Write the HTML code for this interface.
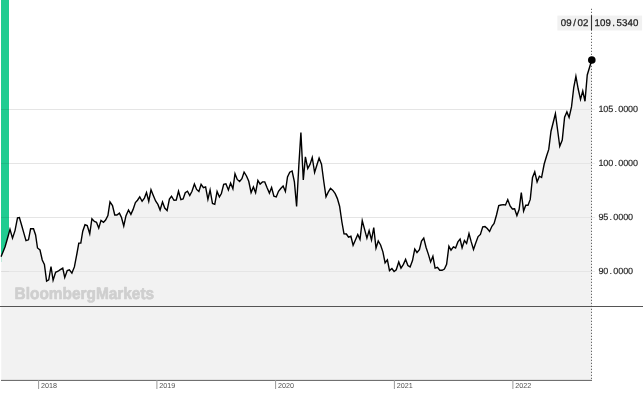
<!DOCTYPE html>
<html><head><meta charset="utf-8"><title>Chart</title>
<style>
html,body{margin:0;padding:0;background:#fff;}
body{width:643px;height:403px;overflow:hidden;font-family:"Liberation Sans",sans-serif;}
svg{display:block;}
</style></head><body>
<svg width="643" height="403" viewBox="0 0 643 403">
<rect x="0" y="0" width="643" height="403" fill="#ffffff"/>
<rect x="1" y="0" width="8" height="262" fill="#21cc91"/>
<path d="M1.25,256.20 L5.00,246.90 L7.60,238.00 L10.00,229.40 L12.50,238.10 L15.00,230.60 L17.50,217.80 L19.40,217.50 L21.70,225.50 L24.00,233.60 L26.00,240.60 L28.50,239.80 L30.60,228.80 L33.50,228.80 L35.60,235.00 L37.50,248.00 L40.00,250.00 L42.25,260.00 L44.40,264.40 L46.60,281.00 L48.75,279.75 L51.00,266.50 L53.10,280.25 L55.60,272.25 L58.10,271.25 L60.30,269.70 L62.75,268.10 L64.75,277.50 L67.25,270.60 L69.40,269.75 L71.90,273.10 L74.40,266.90 L76.90,253.75 L78.80,243.10 L80.80,243.00 L82.75,231.25 L85.00,224.75 L87.25,225.60 L89.75,233.75 L91.90,218.75 L94.40,221.50 L96.50,222.25 L98.75,228.10 L101.00,220.40 L103.50,222.25 L105.60,220.00 L107.90,215.60 L110.00,201.90 L112.50,205.60 L114.75,215.00 L116.90,215.00 L119.40,213.10 L121.50,217.50 L123.75,226.00 L126.00,215.60 L128.50,210.00 L130.90,214.40 L133.10,209.40 L135.40,202.50 L137.50,200.25 L139.75,196.90 L142.10,201.25 L144.40,198.10 L146.50,192.50 L148.75,201.25 L151.00,189.75 L153.10,195.00 L155.60,201.00 L157.90,204.40 L160.10,210.00 L162.50,201.90 L164.75,208.10 L167.10,210.60 L169.40,199.00 L171.50,196.25 L174.00,200.25 L176.25,200.00 L178.50,191.25 L180.90,199.60 L183.10,199.00 L185.25,192.75 L187.50,191.25 L189.75,195.60 L192.00,191.25 L194.40,184.00 L196.60,189.40 L198.90,191.50 L201.10,184.40 L203.40,187.75 L205.60,186.90 L207.90,199.40 L210.10,190.00 L212.50,203.50 L214.75,204.40 L217.10,191.50 L219.40,196.90 L221.40,193.50 L223.70,184.40 L225.90,183.75 L228.40,190.00 L230.60,183.10 L232.90,188.75 L235.00,173.75 L237.25,179.40 L239.60,181.50 L241.90,178.75 L244.10,172.10 L246.50,176.00 L248.75,181.25 L251.10,192.50 L253.40,186.90 L255.60,192.75 L257.90,180.40 L260.10,184.10 L262.50,181.90 L264.75,181.90 L267.10,187.75 L269.40,193.10 L271.60,187.50 L273.90,196.25 L276.25,196.90 L278.50,191.25 L280.75,188.50 L283.10,186.00 L285.40,191.50 L287.50,176.90 L289.75,172.25 L292.10,171.00 L294.40,181.90 L296.60,206.50 L298.80,166.00 L300.90,132.50 L303.30,180.00 L305.40,156.90 L307.75,168.50 L310.00,164.40 L312.25,157.50 L314.60,172.50 L316.90,165.00 L319.10,158.00 L321.50,164.20 L323.75,181.25 L326.00,196.90 L328.20,192.20 L330.50,188.30 L332.90,190.40 L335.20,193.60 L337.40,198.60 L339.60,206.25 L341.90,222.00 L344.00,233.80 L346.40,234.00 L348.50,237.25 L350.90,236.25 L353.10,245.25 L355.40,240.00 L357.75,234.40 L360.00,239.40 L362.25,220.60 L364.60,229.40 L366.90,238.10 L369.10,230.60 L371.50,240.00 L373.75,227.50 L376.00,248.10 L378.25,241.00 L380.60,245.00 L382.90,251.90 L385.10,262.80 L387.40,259.90 L389.50,270.60 L391.90,268.50 L394.10,271.50 L396.25,269.75 L398.75,261.90 L401.00,268.10 L403.40,264.40 L405.60,259.40 L407.90,265.60 L410.10,266.90 L412.50,260.60 L414.75,249.00 L417.00,252.50 L419.40,249.75 L421.50,241.00 L423.75,238.10 L426.10,247.50 L428.40,254.40 L430.60,261.90 L432.90,256.25 L435.10,268.10 L437.50,267.25 L439.75,270.25 L442.10,270.25 L444.40,269.00 L446.60,264.40 L448.90,246.25 L451.00,250.20 L453.40,246.90 L455.60,248.00 L457.90,241.90 L460.10,239.00 L462.10,247.75 L464.40,240.60 L466.60,243.50 L469.00,233.50 L471.25,241.90 L473.50,249.40 L475.90,242.50 L478.10,236.60 L480.40,234.40 L482.75,226.90 L485.00,226.60 L487.25,228.50 L489.60,231.50 L491.90,226.25 L494.10,223.50 L496.50,215.00 L498.75,205.60 L501.00,205.00 L503.25,204.60 L505.50,205.00 L507.75,199.60 L510.10,206.00 L512.40,209.00 L514.60,208.75 L516.90,215.60 L519.10,209.50 L521.30,192.50 L523.60,211.00 L525.75,205.25 L528.00,205.25 L530.25,199.40 L532.50,177.50 L534.75,171.90 L537.10,181.90 L539.40,176.25 L541.60,177.50 L544.20,164.00 L546.50,156.25 L548.75,149.40 L551.00,131.25 L553.20,122.50 L555.40,113.75 L557.60,130.00 L559.75,146.25 L562.25,140.00 L564.60,117.25 L566.90,111.90 L569.10,117.50 L571.50,106.90 L573.75,87.50 L575.90,76.25 L578.20,89.00 L580.50,99.40 L582.75,91.00 L585.00,101.25 L587.25,75.00 L589.50,67.50 L591.75,60.00 L591.75,380.5 L1.25,380.5 Z" fill="#f2f2f2" stroke="none"/>
<line x1="1" y1="109.5" x2="9" y2="109.5" stroke="#000" stroke-opacity="0.085" stroke-width="1"/>
<line x1="9" y1="109.5" x2="591.5" y2="109.5" stroke="#e5e5e5" stroke-width="1"/>
<line x1="591.5" y1="109.5" x2="595" y2="109.5" stroke="#000" stroke-opacity="0.07" stroke-width="1"/>
<line x1="1" y1="163.5" x2="9" y2="163.5" stroke="#000" stroke-opacity="0.085" stroke-width="1"/>
<line x1="9" y1="163.5" x2="591.5" y2="163.5" stroke="#e5e5e5" stroke-width="1"/>
<line x1="591.5" y1="163.5" x2="595" y2="163.5" stroke="#000" stroke-opacity="0.07" stroke-width="1"/>
<line x1="1" y1="217.5" x2="9" y2="217.5" stroke="#000" stroke-opacity="0.085" stroke-width="1"/>
<line x1="9" y1="217.5" x2="591.5" y2="217.5" stroke="#e5e5e5" stroke-width="1"/>
<line x1="591.5" y1="217.5" x2="595" y2="217.5" stroke="#000" stroke-opacity="0.07" stroke-width="1"/>
<line x1="1" y1="271.5" x2="9" y2="271.5" stroke="#000" stroke-opacity="0.085" stroke-width="1"/>
<line x1="9" y1="271.5" x2="591.5" y2="271.5" stroke="#e5e5e5" stroke-width="1"/>
<line x1="591.5" y1="271.5" x2="595" y2="271.5" stroke="#000" stroke-opacity="0.07" stroke-width="1"/>
<path d="M1.25,256.20 L5.00,246.90 L7.60,238.00 L10.00,229.40 L12.50,238.10 L15.00,230.60 L17.50,217.80 L19.40,217.50 L21.70,225.50 L24.00,233.60 L26.00,240.60 L28.50,239.80 L30.60,228.80 L33.50,228.80 L35.60,235.00 L37.50,248.00 L40.00,250.00 L42.25,260.00 L44.40,264.40 L46.60,281.00 L48.75,279.75 L51.00,266.50 L53.10,280.25 L55.60,272.25 L58.10,271.25 L60.30,269.70 L62.75,268.10 L64.75,277.50 L67.25,270.60 L69.40,269.75 L71.90,273.10 L74.40,266.90 L76.90,253.75 L78.80,243.10 L80.80,243.00 L82.75,231.25 L85.00,224.75 L87.25,225.60 L89.75,233.75 L91.90,218.75 L94.40,221.50 L96.50,222.25 L98.75,228.10 L101.00,220.40 L103.50,222.25 L105.60,220.00 L107.90,215.60 L110.00,201.90 L112.50,205.60 L114.75,215.00 L116.90,215.00 L119.40,213.10 L121.50,217.50 L123.75,226.00 L126.00,215.60 L128.50,210.00 L130.90,214.40 L133.10,209.40 L135.40,202.50 L137.50,200.25 L139.75,196.90 L142.10,201.25 L144.40,198.10 L146.50,192.50 L148.75,201.25 L151.00,189.75 L153.10,195.00 L155.60,201.00 L157.90,204.40 L160.10,210.00 L162.50,201.90 L164.75,208.10 L167.10,210.60 L169.40,199.00 L171.50,196.25 L174.00,200.25 L176.25,200.00 L178.50,191.25 L180.90,199.60 L183.10,199.00 L185.25,192.75 L187.50,191.25 L189.75,195.60 L192.00,191.25 L194.40,184.00 L196.60,189.40 L198.90,191.50 L201.10,184.40 L203.40,187.75 L205.60,186.90 L207.90,199.40 L210.10,190.00 L212.50,203.50 L214.75,204.40 L217.10,191.50 L219.40,196.90 L221.40,193.50 L223.70,184.40 L225.90,183.75 L228.40,190.00 L230.60,183.10 L232.90,188.75 L235.00,173.75 L237.25,179.40 L239.60,181.50 L241.90,178.75 L244.10,172.10 L246.50,176.00 L248.75,181.25 L251.10,192.50 L253.40,186.90 L255.60,192.75 L257.90,180.40 L260.10,184.10 L262.50,181.90 L264.75,181.90 L267.10,187.75 L269.40,193.10 L271.60,187.50 L273.90,196.25 L276.25,196.90 L278.50,191.25 L280.75,188.50 L283.10,186.00 L285.40,191.50 L287.50,176.90 L289.75,172.25 L292.10,171.00 L294.40,181.90 L296.60,206.50 L298.80,166.00 L300.90,132.50 L303.30,180.00 L305.40,156.90 L307.75,168.50 L310.00,164.40 L312.25,157.50 L314.60,172.50 L316.90,165.00 L319.10,158.00 L321.50,164.20 L323.75,181.25 L326.00,196.90 L328.20,192.20 L330.50,188.30 L332.90,190.40 L335.20,193.60 L337.40,198.60 L339.60,206.25 L341.90,222.00 L344.00,233.80 L346.40,234.00 L348.50,237.25 L350.90,236.25 L353.10,245.25 L355.40,240.00 L357.75,234.40 L360.00,239.40 L362.25,220.60 L364.60,229.40 L366.90,238.10 L369.10,230.60 L371.50,240.00 L373.75,227.50 L376.00,248.10 L378.25,241.00 L380.60,245.00 L382.90,251.90 L385.10,262.80 L387.40,259.90 L389.50,270.60 L391.90,268.50 L394.10,271.50 L396.25,269.75 L398.75,261.90 L401.00,268.10 L403.40,264.40 L405.60,259.40 L407.90,265.60 L410.10,266.90 L412.50,260.60 L414.75,249.00 L417.00,252.50 L419.40,249.75 L421.50,241.00 L423.75,238.10 L426.10,247.50 L428.40,254.40 L430.60,261.90 L432.90,256.25 L435.10,268.10 L437.50,267.25 L439.75,270.25 L442.10,270.25 L444.40,269.00 L446.60,264.40 L448.90,246.25 L451.00,250.20 L453.40,246.90 L455.60,248.00 L457.90,241.90 L460.10,239.00 L462.10,247.75 L464.40,240.60 L466.60,243.50 L469.00,233.50 L471.25,241.90 L473.50,249.40 L475.90,242.50 L478.10,236.60 L480.40,234.40 L482.75,226.90 L485.00,226.60 L487.25,228.50 L489.60,231.50 L491.90,226.25 L494.10,223.50 L496.50,215.00 L498.75,205.60 L501.00,205.00 L503.25,204.60 L505.50,205.00 L507.75,199.60 L510.10,206.00 L512.40,209.00 L514.60,208.75 L516.90,215.60 L519.10,209.50 L521.30,192.50 L523.60,211.00 L525.75,205.25 L528.00,205.25 L530.25,199.40 L532.50,177.50 L534.75,171.90 L537.10,181.90 L539.40,176.25 L541.60,177.50 L544.20,164.00 L546.50,156.25 L548.75,149.40 L551.00,131.25 L553.20,122.50 L555.40,113.75 L557.60,130.00 L559.75,146.25 L562.25,140.00 L564.60,117.25 L566.90,111.90 L569.10,117.50 L571.50,106.90 L573.75,87.50 L575.90,76.25 L578.20,89.00 L580.50,99.40 L582.75,91.00 L585.00,101.25 L587.25,75.00 L589.50,67.50 L591.75,60.00" fill="none" stroke="#000" stroke-width="1.4" stroke-linejoin="miter" stroke-miterlimit="6" stroke-linecap="round"/>
<line x1="0" y1="306.5" x2="643" y2="306.5" stroke="#555" stroke-width="1"/>
<line x1="1" y1="380.4" x2="592" y2="380.4" stroke="#606060" stroke-width="1"/>
<line x1="38.6" y1="380" x2="38.6" y2="389" stroke="#999" stroke-width="1"/>
<line x1="156.9" y1="380" x2="156.9" y2="389" stroke="#999" stroke-width="1"/>
<line x1="275.6" y1="380" x2="275.6" y2="389" stroke="#999" stroke-width="1"/>
<line x1="394.4" y1="380" x2="394.4" y2="389" stroke="#999" stroke-width="1"/>
<line x1="512.9" y1="380" x2="512.9" y2="389" stroke="#999" stroke-width="1"/>
<line x1="591.5" y1="8.8" x2="591.5" y2="380" stroke="#444" stroke-width="1" stroke-dasharray="1,2"/>
<rect x="557.4" y="15.6" width="84.7" height="14.9" fill="#f1f1f1"/>
<line x1="591.5" y1="15.2" x2="591.5" y2="30.5" stroke="#333" stroke-width="1.1"/>
<circle cx="591.8" cy="60" r="3.8" fill="#000"/>
<g style="filter:grayscale(1);text-rendering:geometricPrecision">
<text x="40.9" y="388.1" font-family="Liberation Sans, sans-serif" font-size="7.2" fill="#555">2018</text>
<text x="159.20000000000002" y="388.1" font-family="Liberation Sans, sans-serif" font-size="7.2" fill="#555">2019</text>
<text x="277.90000000000003" y="388.1" font-family="Liberation Sans, sans-serif" font-size="7.2" fill="#555">2020</text>
<text x="396.7" y="388.1" font-family="Liberation Sans, sans-serif" font-size="7.2" fill="#555">2021</text>
<text x="515.1999999999999" y="388.1" font-family="Liberation Sans, sans-serif" font-size="7.2" fill="#555">2022</text>
<text x="563.50 569.05 574.60 580.15 585.70" y="26.1" text-anchor="middle" font-family="Liberation Sans, sans-serif" font-size="9.7" fill="#222" stroke="#222" stroke-width="0.25">09/02</text>
<text x="597.17 602.66 608.15 613.64 619.13 624.62 630.11 635.60" y="26.1" text-anchor="middle" font-family="Liberation Sans, sans-serif" font-size="9.7" fill="#222" stroke="#222" stroke-width="0.25">109.5340</text>
<text x="600.90 605.85 610.80 615.75 620.70 625.65 630.60 635.55" y="112.1" text-anchor="middle" font-family="Liberation Sans, sans-serif" font-size="9" fill="#222" stroke="#222" stroke-width="0.15">105.0000</text>
<text x="600.90 605.85 610.80 615.75 620.70 625.65 630.60 635.55" y="166.1" text-anchor="middle" font-family="Liberation Sans, sans-serif" font-size="9" fill="#222" stroke="#222" stroke-width="0.15">100.0000</text>
<text x="600.90 605.85 610.80 615.75 620.70 625.65 630.60" y="220.1" text-anchor="middle" font-family="Liberation Sans, sans-serif" font-size="9" fill="#222" stroke="#222" stroke-width="0.15">95.0000</text>
<text x="600.90 605.85 610.80 615.75 620.70 625.65 630.60" y="274.1" text-anchor="middle" font-family="Liberation Sans, sans-serif" font-size="9" fill="#222" stroke="#222" stroke-width="0.15">90.0000</text>
<text x="14.6" y="298.5" font-family="Liberation Sans, sans-serif" font-weight="bold" font-size="16.5" fill="#cfcfcf" stroke="#cfcfcf" stroke-width="0.7" stroke-linejoin="round" textLength="139.5" lengthAdjust="spacingAndGlyphs">BloombergMarkets</text>
</g>
</svg>
</body></html>
